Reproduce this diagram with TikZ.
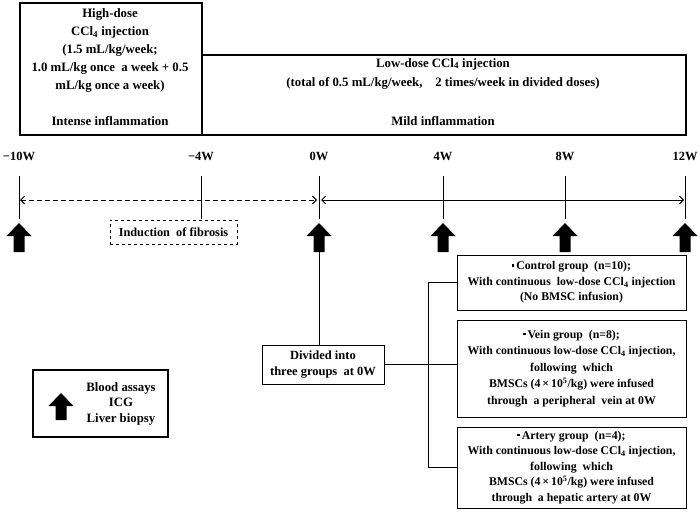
\documentclass[tikz,border=0pt]{standalone}
\usepackage{fontspec}
\setmainfont{Liberation Serif}
\usetikzlibrary{arrows.meta,calc}
\newcommand\blockup[3]{\fill (#1,#2) -- ++(12.5,13) -- ++(-7,0) -- (#1+5.5,#3) -- (#1-5.5,#3) -- (#1-5.5,#2+13) -- ++(-7,0) -- cycle;}
\newcommand\sqbul{\raisebox{0.6ex}{\rule{2.4pt}{2.4pt}}\,}
\begin{document}
\begin{tikzpicture}[x=1pt,y=-1pt,
  every node/.style={font=\bfseries\fontsize{12.8}{15}\selectfont},
  thickbox/.style={draw, line width=1.6pt, inner sep=0pt},
  grpbox/.style={draw, line width=0.8pt, align=center, inner sep=0pt, minimum width=229pt,
                 font=\bfseries\fontsize{11.8}{15.5}\selectfont},
  tick/.style={line width=0.8pt},
  tips/.style={{Straight Barb[length=4pt,width=8pt]}-{Straight Barb[length=4pt,width=8pt]}},
  wlabel/.style={font=\bfseries\fontsize{12.5}{14}\selectfont},
  conn/.style={line width=0.8pt}
]
\useasboundingbox (0,0) rectangle (700,511);
\fill[white] (0,0) rectangle (700,511);

% top boxes
\node[thickbox, minimum width=182pt, minimum height=132pt, anchor=north west] (high) at (19,2) {};
\node[thickbox, minimum width=484pt, minimum height=80pt, anchor=north west] (low) at (201,54) {};
\node[align=center, font=\bfseries\fontsize{12.8}{17.8}\selectfont] (hightext) at (110,50.5)
  {High-dose\\CCl\textsubscript{4} injection\\(1.5 mL/kg/week;\\1.0 mL/kg once\ \ a week + 0.5\\mL/kg once a week)};
\node (intense) at (110,121) {Intense inflammation};
\node[align=center, font=\bfseries\fontsize{12.8}{19}\selectfont] (lowtext) at (443,73.5)
  {Low-dose CCl\textsubscript{4} injection\\(total of 0.5 mL/kg/week,\quad 2 times/week in divided doses)};
\node (mild) at (443,121) {Mild inflammation};

% timeline
\coordinate (tm10) at (19,200);
\coordinate (tm4) at (201,200);
\coordinate (t0) at (319,200);
\coordinate (t4) at (443,200);
\coordinate (t8) at (565,200);
\coordinate (t12) at (685,200);
\foreach \p/\lab in {tm10/−10W, tm4/−4W, t0/0W, t4/4W, t8/8W, t12/12W}{
  \draw[tick] ($(\p)+(0,-24)$) -- ($(\p)+(0,19)$);
  \node[wlabel] (l\p) at ($(\p)+(0,-44)$) {\lab};
}
\draw[line width=1pt, dash pattern=on 5pt off 3pt, tips] ($(tm10)+(1,0)$) -- ($(t0)+(-2,0)$);
\draw[line width=0.9pt, tips] ($(t0)+(2,0)$) -- ($(t12)+(-1,0)$);

% block arrows
\blockup{19}{223}{252}
\blockup{319}{223}{252}
\blockup{443}{223}{252}
\blockup{565}{223}{252}
\blockup{685}{223}{252}

\node[draw, dashed, line width=0.7pt, minimum width=127pt, minimum height=24pt,
      font=\bfseries\fontsize{12.3}{14}\selectfont] (fib) at (173.5,232) {Induction\ \ of fibrosis};

% divided
\node[draw, line width=0.8pt, minimum width=122pt, minimum height=39pt, align=center, inner sep=0pt,
      font=\bfseries\fontsize{12.5}{16}\selectfont] (div) at (323,364.5) {Divided into\\three groups\ \ at 0W};
\coordinate (a0) at (319,252);
\draw[conn] (a0) -- (a0 |- div.north);

% groups
\node[grpbox, minimum height=55pt] (ctrl) at (571.5,282.5)
  {\sqbul Control group\ \ (n=10);\\With continuous\ \ low-dose CCl\textsubscript{4} injection\\(No BMSC infusion)};
\node[grpbox, minimum height=97pt, font=\bfseries\fontsize{11.8}{16.5}\selectfont] (vein) at (571.5,368.5)
  {\sqbul Vein group\ \ (n=8);\\With continuous low-dose CCl\textsubscript{4} injection,\\following\ \ which\\BMSCs (4\,×\,10\textsuperscript{5}/kg) were infused\\through\ \ a peripheral\ \ vein at 0W};
\node[grpbox, minimum height=81pt] (art) at (571.5,467.5)
  {\sqbul Artery group\ \ (n=4);\\With continuous low-dose CCl\textsubscript{4} injection,\\following\ \ which\\BMSCs (4\,×\,10\textsuperscript{5}/kg) were infused\\through\ \ a hepatic artery at 0W};
\coordinate (bx) at (428,0);
\draw[conn] (ctrl.west) -- (ctrl.west -| bx) -- (art.west -| bx) -- (art.west);
\draw[conn] (div.east) -- (div.east -| vein.west);

% legend
\node[thickbox, minimum width=135pt, minimum height=67pt] (leg) at (100.5,403.5) {};
\blockup{61}{393}{420}
\node[align=center, font=\bfseries\fontsize{12.8}{15.5}\selectfont] (legt) at (121,403.5)
  {Blood assays\\ICG\\Liver biopsy};
\end{tikzpicture}
\end{document}
